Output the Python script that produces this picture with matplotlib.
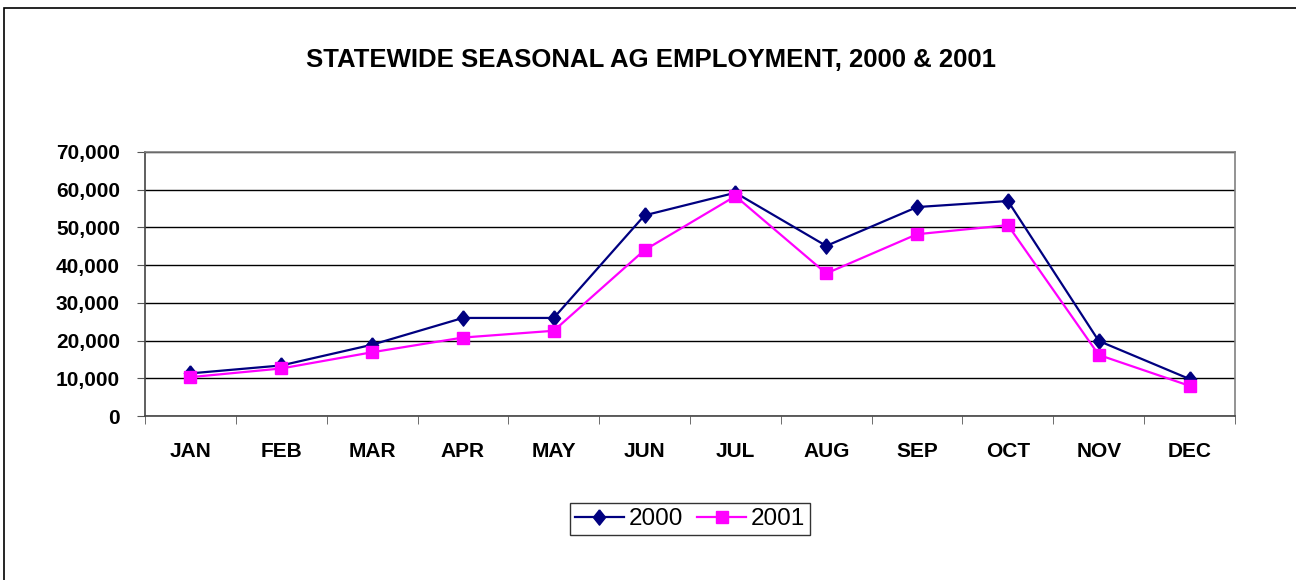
import matplotlib.pyplot as plt
from matplotlib.patches import Rectangle
from matplotlib.ticker import FuncFormatter, FixedLocator

plt.rcParams['font.family'] = ['Liberation Sans', 'DejaVu Sans']

months = ["JAN", "FEB", "MAR", "APR", "MAY", "JUN",
          "JUL", "AUG", "SEP", "OCT", "NOV", "DEC"]
emp_2000 = [11300, 13400, 18900, 26000, 26000, 53200,
            59200, 45100, 55400, 57000, 19900, 9800]
emp_2001 = [10300, 12600, 16900, 20800, 22600, 44000,
            58300, 37800, 48200, 50600, 16200, 8000]

# slightly narrow diamond, like the old Excel marker
diamond = [(0, 1), (0.8, 0), (0, -1), (-0.8, 0), (0, 1)]

fig = plt.figure(figsize=(12.96, 5.8), dpi=100)
ax = fig.add_axes([145 / 1296, 1 - 416 / 580, 1090 / 1296, 264 / 580])

x = list(range(len(months)))
ax.plot(x, emp_2000, color='#000080', lw=1.6, marker=diamond, ms=11,
        label='2000', zorder=3)
ax.plot(x, emp_2001, color='#FF00FF', lw=1.6, marker='s', ms=8.5,
        label='2001', zorder=3)

ax.set_xlim(-0.5, 11.5)
ax.set_ylim(0, 70000)
ax.set_yticks(range(0, 70001, 10000))
ax.yaxis.set_major_formatter(FuncFormatter(lambda v, p: f'{int(v):,}'))
ax.grid(axis='y', color='black', lw=1)
ax.set_axisbelow(True)

ax.set_xticks(x)
ax.set_xticklabels(months, fontweight='bold', fontsize=15)
ax.xaxis.set_minor_locator(FixedLocator([i - 0.5 for i in range(13)]))
ax.tick_params(axis='x', which='major', length=0, pad=19)
ax.tick_params(axis='x', which='minor', length=6, color='#555555', direction='out')
ax.tick_params(axis='y', length=6, color='#555555', pad=12, labelsize=15)
for lbl in ax.get_yticklabels():
    lbl.set_fontweight('bold')

for s in ax.spines.values():
    s.set_color('#808080')
    s.set_linewidth(1.2)
ax.spines['left'].set_color('#444444')
ax.spines['bottom'].set_color('#444444')

fig.text(651 / 1296, 1 - 60 / 580, 'STATEWIDE SEASONAL AG EMPLOYMENT, 2000 & 2001',
         ha='center', va='center', fontsize=18.5, fontweight='bold')

leg = fig.legend(loc='center', bbox_to_anchor=(690 / 1296, 1 - 519 / 580),
                 ncol=2, fontsize=17.5, frameon=True, fancybox=False,
                 edgecolor='black', handlelength=2.0, handletextpad=0.2,
                 columnspacing=0.6, borderpad=0.2, borderaxespad=0)
leg.get_frame().set_linewidth(1)

# outer chart border (only left and top fall inside the image)
fig.patches.append(Rectangle((4 / 1296, -0.05), 1.2, 1 - 8 / 580 + 0.05,
                             transform=fig.transFigure, fill=False,
                             edgecolor='black', lw=1.2))

fig.savefig('out.png', dpi=100)
